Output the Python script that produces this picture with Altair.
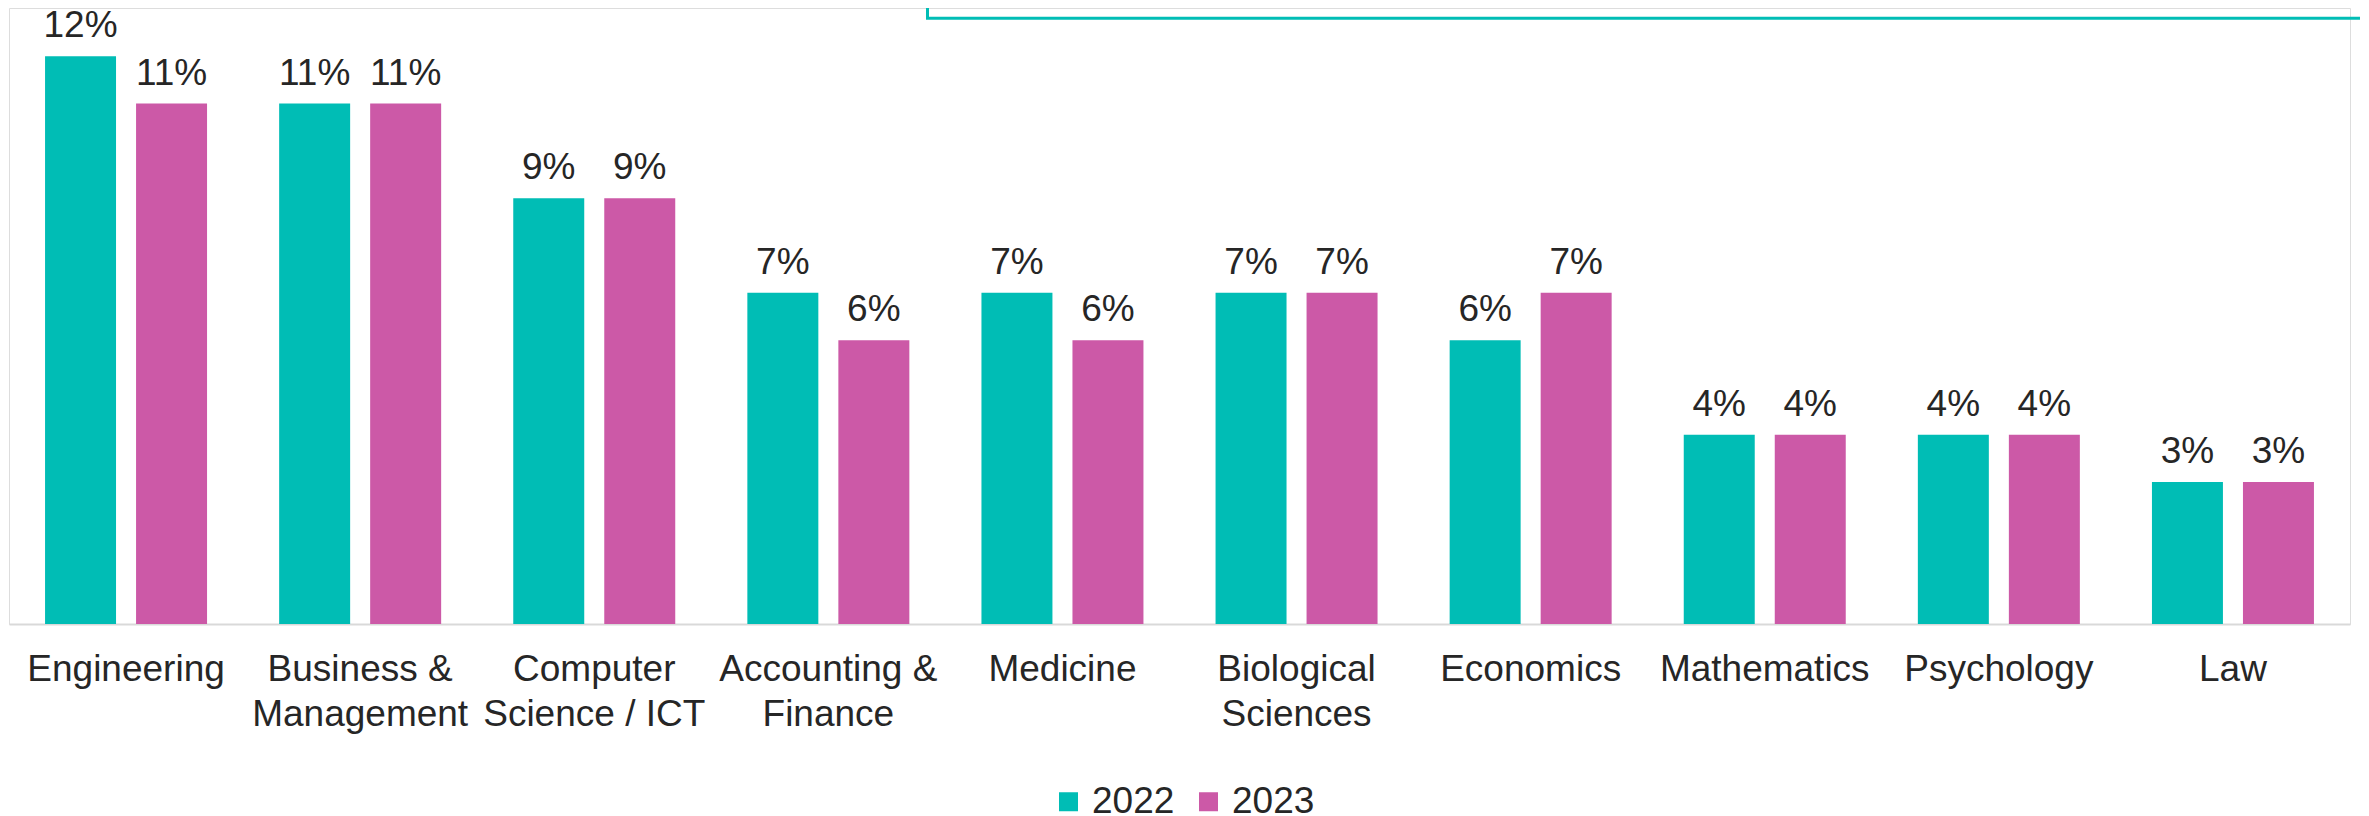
import altair as alt
import pandas as pd

categories = [
    "Engineering",
    "Business &|Management",
    "Computer|Science / ICT",
    "Accounting &|Finance",
    "Medicine",
    "Biological|Sciences",
    "Economics",
    "Mathematics",
    "Psychology",
    "Law",
]
values_2022 = [12, 11, 9, 7, 7, 7, 6, 4, 4, 3]
values_2023 = [11, 11, 9, 6, 6, 7, 7, 4, 4, 3]
years = ["2022", "2023"]
colors = ["#00BDB5", "#CC59A7"]

rows = []
for c, a, b in zip(categories, values_2022, values_2023):
    rows.append({"category": c, "year": years[0], "value": a / 100})
    rows.append({"category": c, "year": years[1], "value": b / 100})
df = pd.DataFrame(rows)

FONT = "Liberation Sans"
TEXT = "#262626"

base = alt.Chart(df).encode(
    x=alt.X(
        "category:N",
        sort=categories,
        title=None,
        scale=alt.Scale(paddingInner=0.308, paddingOuter=0.154),
        axis=alt.Axis(
            labelExpr="split(datum.label, '|')",
            labelAngle=0,
            labelFont=FONT,
            labelFontSize=37,
            labelColor=TEXT,
            labelLineHeight=45,
            labelPadding=27,
            labelLimit=400,
            labelOverlap=False,
            labelBaseline="top",
            ticks=False,
            tickSize=0,
            domainColor="#D9D9D9",
            domainWidth=2,
            grid=False,
        ),
    ),
    xOffset=alt.XOffset("year:N", scale=alt.Scale(paddingInner=0.22, paddingOuter=0)),
    y=alt.Y("value:Q", scale=alt.Scale(domain=[0, 0.1302], nice=False), axis=None),
)

bars = base.mark_bar().encode(
    color=alt.Color(
        "year:N",
        scale=alt.Scale(domain=years, range=colors),
        legend=alt.Legend(
            title=None,
            orient="none",
            direction="horizontal",
            legendX=1041,
            legendY=775,
            symbolType="square",
            symbolSize=361,
            symbolStrokeWidth=0,
            labelFont=FONT,
            labelFontSize=37,
            labelColor=TEXT,
            labelOffset=5,
            columnPadding=15,
            labelLimit=300,
        ),
    )
)

labels = base.mark_text(
    baseline="alphabetic", dy=-19, fontSize=37, font=FONT, color=TEXT
).encode(text=alt.Text("value:Q", format=".0%"))

box = alt.Chart(pd.DataFrame({"a": [0]})).mark_rect(
    filled=False, stroke="#00BDB5", strokeWidth=3
).encode(
    x=alt.value(918.5), x2=alt.value(2400), y=alt.value(-100), y2=alt.value(10.3)
)

chart = (
    alt.layer(bars, labels, box)
    .properties(
        width=2341,
        height=616,
        padding={"left": 1, "top": 0, "right": 10, "bottom": 200},
        autosize="none",
    )
    .configure_view(strokeWidth=0)
    .configure(font=FONT)
)

chart.save("out.html", embed_options={"renderer": "svg", "actions": False})
